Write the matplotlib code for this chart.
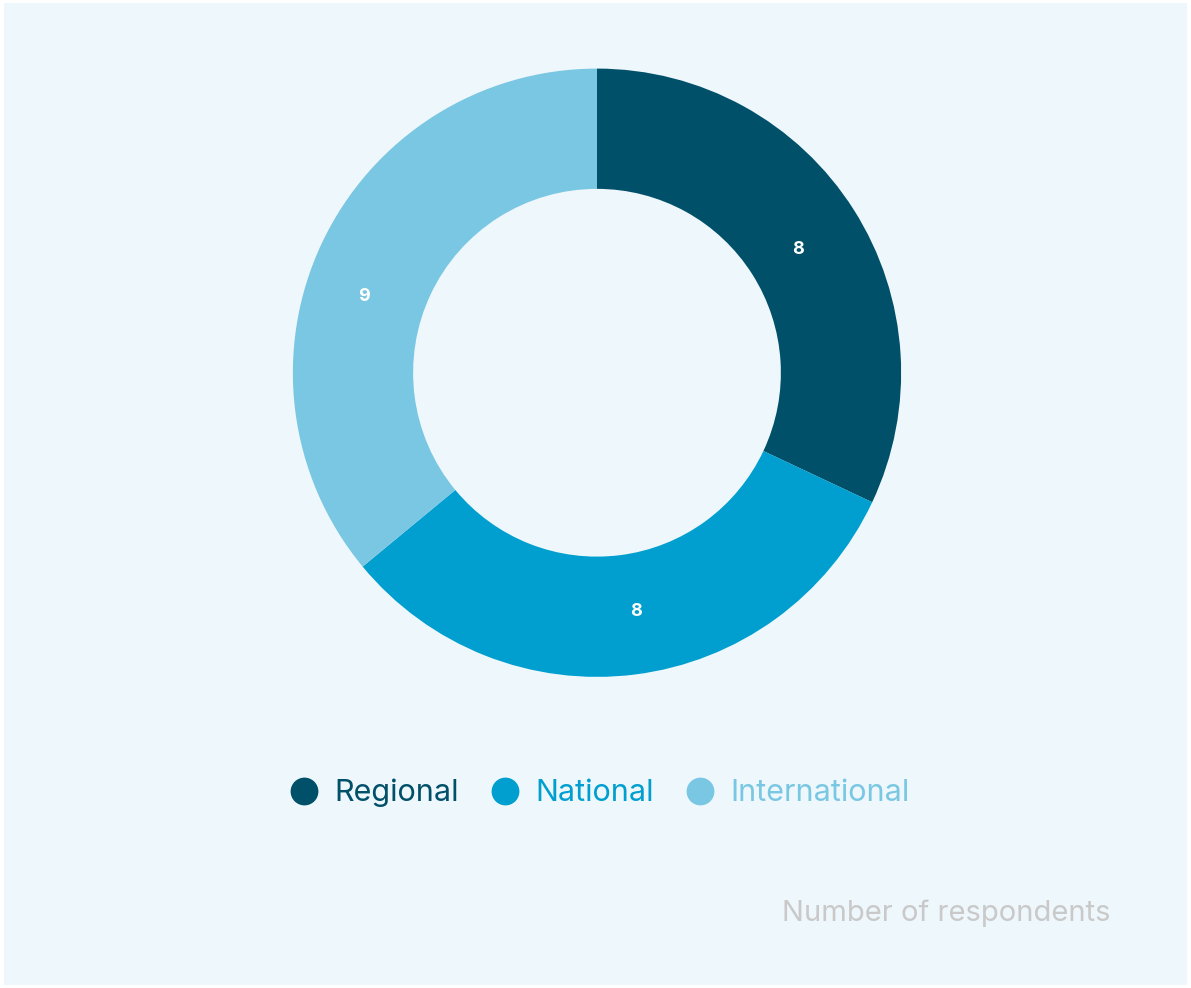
import matplotlib.pyplot as plt
from matplotlib.lines import Line2D

# data
categories = ['Regional', 'National', 'International']
values = [8, 8, 9]
colors = ['#00506a', '#009fcf', '#7ac7e3']
bg = '#eef7fb'

plt.rcParams['font.family'] = ['Inter', 'DejaVu Sans']

W, H = 1191, 988
fig = plt.figure(figsize=(W / 100, H / 100), dpi=100, facecolor='white')
ax = fig.add_axes([3 / W, 3 / H, (W - 6) / W, (H - 6) / H])
ax.set_facecolor(bg)

# donut
wedges, texts, autotexts = ax.pie(
    values, colors=colors, startangle=90, counterclock=False,
    center=(597, H - 372), radius=306, frame=True,
    wedgeprops=dict(width=121, edgecolor='none'),
    autopct=lambda p: '%d' % round(p * sum(values) / 100),
    pctdistance=0.80,
    textprops=dict(color='white', fontsize=13, fontweight='bold'))
# value labels sit where the original puts them
autotexts[2].set_position((363, H - 295))
autotexts[1].set_position((636, H - 612))
autotexts[0].set_position((799, H - 248))

ax.set_xlim(0, W)
ax.set_ylim(0, H)
ax.set_aspect('equal')
ax.set_xticks([])
ax.set_yticks([])
for s in ax.spines.values():
    s.set_visible(False)

# legend
handles = [Line2D([], [], marker='o', linestyle='none', markersize=19,
                  markerfacecolor=c, markeredgecolor=c) for c in colors]
leg = ax.legend(handles, categories, loc='center', bbox_to_anchor=(599 / W, 1 - 793 / H),
                bbox_transform=fig.transFigure, ncol=3, frameon=False,
                fontsize=22, handletextpad=0.5, columnspacing=1.0,
                handlelength=1.0, labelcolor=colors)

fig.text(1110 / W, 1 - 913 / H, 'Number of respondents', ha='right', va='center',
         fontsize=21, color='#c9c9c9')

fig.savefig('out.png', dpi=100, facecolor='white')
